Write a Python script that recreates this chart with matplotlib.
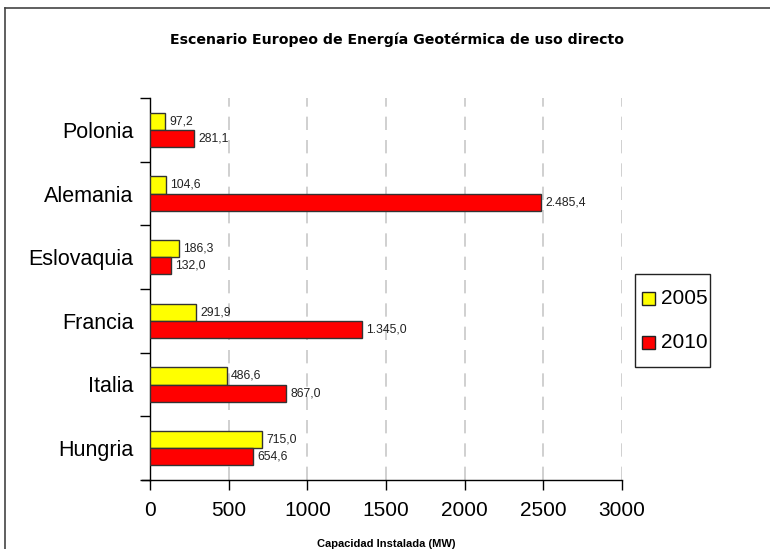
import matplotlib
matplotlib.use("Agg")
import matplotlib.pyplot as plt
from matplotlib.lines import Line2D
from matplotlib.patches import Rectangle
import numpy as np

categories = ["Polonia", "Alemania", "Eslovaquia", "Francia", "Italia", "Hungria"]
vals_2005 = [97.2, 104.6, 186.3, 291.9, 486.6, 715.0]
vals_2010 = [281.1, 2485.4, 132.0, 1345.0, 867.0, 654.6]
series_names = ["2005", "2010"]
series_colors = ["#FFFF00", "#FF0000"]
x_ticks = [0, 500, 1000, 1500, 2000, 2500, 3000]

def fmt_es(v):
    s = f"{v:,.1f}"
    return s.replace(",", "X").replace(".", ",").replace("X", ".")

W, H = 770, 549
fig = plt.figure(figsize=(7.7, 5.49), dpi=100)
ax = fig.add_axes([150/W, 1-480/H, 472/W, 382/H])

n = len(categories)
pos = np.arange(n)
h = 0.27
ax.barh(pos - h/2, vals_2005, height=h, color=series_colors[0], edgecolor="#333333", linewidth=1, zorder=3)
ax.barh(pos + h/2, vals_2010, height=h, color=series_colors[1], edgecolor="#333333", linewidth=1, zorder=3)

for i in range(n):
    ax.annotate(fmt_es(vals_2005[i]), (vals_2005[i], pos[i] - h/2), xytext=(3, 0),
                textcoords="offset points", va="center", ha="left", fontsize=8.8,
                family="Liberation Sans", color="#222222")
    ax.annotate(fmt_es(vals_2010[i]), (vals_2010[i], pos[i] + h/2), xytext=(3, 0),
                textcoords="offset points", va="center", ha="left", fontsize=8.8,
                family="Liberation Sans", color="#222222")

ax.set_ylim(n - 0.5, -0.5)
ax.set_xlim(0, 3000)
ax.set_xticks(x_ticks)
ax.set_xticklabels([str(t) for t in x_ticks], fontsize=15, family="Liberation Sans")
ax.set_yticks(pos)
ax.set_yticklabels(categories, fontsize=15.5, family="Liberation Sans")
ax.tick_params(axis="y", which="major", length=0, pad=12)
ax.set_yticks(np.arange(-0.5, n, 1), minor=True)
ax.tick_params(axis="y", which="minor", length=7, width=1, direction="out")
ax.tick_params(axis="x", which="major", length=7, width=1, direction="out", pad=8)

for sp in ["top", "right"]:
    ax.spines[sp].set_visible(False)
ax.spines["left"].set_linewidth(1)
ax.spines["bottom"].set_linewidth(1)
ax.add_line(Line2D([-0.016, 0], [0, 0], transform=ax.transAxes, color="black", lw=1, clip_on=False))

for t in x_ticks[1:]:
    ax.axvline(t, color="#c8c8c8", lw=1.2, linestyle=(0, (8, 6)), zorder=1)

ax.set_xlabel("Capacidad Instalada (MW)", fontsize=8, fontweight="bold",
              family="Liberation Sans", labelpad=13.5)

fig.text(397/W, 1 - 40/H, "Escenario Europeo de Energía Geotérmica de uso directo",
         ha="center", va="center", fontsize=10.2, fontweight="bold", family="DejaVu Sans")

# Legend drawn manually to match the reference box proportions
fig.add_artist(Rectangle((635/W, 1 - 367/H), 75/W, 93/H, transform=fig.transFigure,
                         facecolor="white", edgecolor="#222222", lw=1))
for k, (name, col) in enumerate(zip(series_names, series_colors)):
    yc = 1 - (298 + 44*k)/H
    fig.add_artist(Rectangle((642/W, yc - 6.5/H), 13/W, 13/H, transform=fig.transFigure,
                             facecolor=col, edgecolor="#222222", lw=1))
    fig.text(661/W, yc, name, ha="left", va="center", fontsize=15, family="Liberation Sans")

fig.add_artist(Line2D([5/W, 5/W], [0, 1 - 8/H], transform=fig.transFigure, color="#444444", lw=1.2))
fig.add_artist(Line2D([5/W, 1], [1 - 8/H, 1 - 8/H], transform=fig.transFigure, color="#444444", lw=1.2))

fig.savefig("out.png", dpi=100)
